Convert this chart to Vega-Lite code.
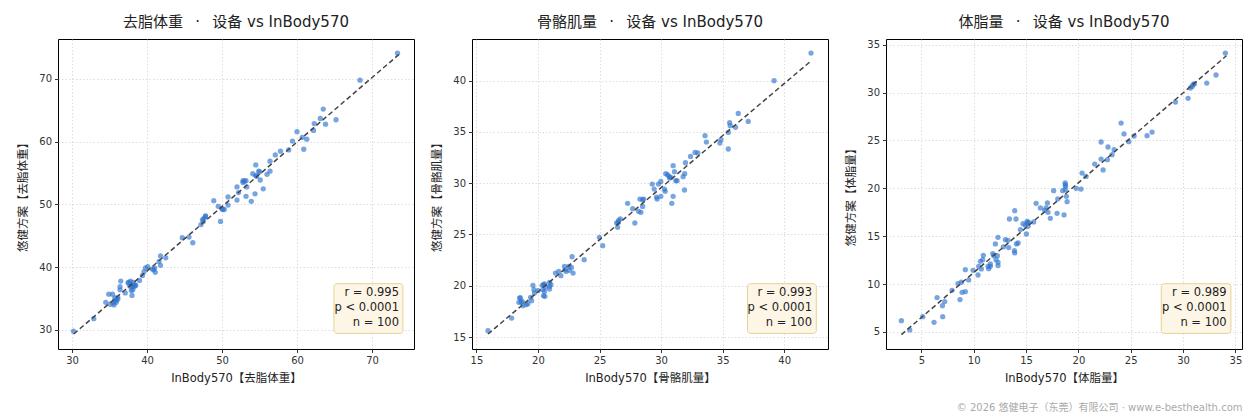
{
  "$schema": "https://vega.github.io/schema/vega-lite/v6.json",
  "background": "white",
  "padding": {"left": 17, "top": 14, "right": 5, "bottom": 5},
  "spacing": 58,
  "bounds": "flush",
  "title": {
    "text": "© 2026 悠健电子（东莞）有限公司 · www.e-besthealth.com",
    "orient": "bottom",
    "anchor": "end",
    "fontSize": 10,
    "fontWeight": "normal",
    "color": "#aaaaaa",
    "offset": 18
  },
  "config": {
    "font": "DejaVu Sans, Noto Sans CJK SC",
    "view": {"stroke": "#000000", "strokeWidth": 1},
    "title": {"fontSize": 15, "fontWeight": "normal", "color": "#222222", "offset": 9},
    "axis": {
      "domain": false,
      "tickColor": "#333333",
      "tickSize": 3.5,
      "labelFontSize": 10,
      "labelColor": "#333333",
      "labelPadding": 3,
      "titleFontSize": 11.5,
      "titleFontWeight": "normal",
      "titleColor": "#222222",
      "gridColor": "#d0d0d0",
      "gridDash": [1.5, 2],
      "gridWidth": 0.7
    },
    "axisY": {"titlePadding": 10},
    "axisX": {"titlePadding": 7}
  },
  "datasets": {
    "lbm": [
      {"x": 30.2, "y": 29.8}, {"x": 32.9, "y": 31.8}, {"x": 34.5, "y": 34.4}, {"x": 34.9, "y": 35.7},
      {"x": 35.4, "y": 35.7}, {"x": 35.1, "y": 34.1}, {"x": 35.5, "y": 34.3}, {"x": 35.7, "y": 34.6},
      {"x": 35.9, "y": 34.8}, {"x": 36.1, "y": 34.9}, {"x": 35.7, "y": 35.1}, {"x": 36.4, "y": 36.4},
      {"x": 36.4, "y": 36.9}, {"x": 36.5, "y": 37.8}, {"x": 37.1, "y": 35.9}, {"x": 37.5, "y": 37.5},
      {"x": 37.8, "y": 37.8}, {"x": 37.9, "y": 37.2}, {"x": 38.0, "y": 36.9}, {"x": 38.0, "y": 35.5},
      {"x": 38.1, "y": 36.4}, {"x": 38.2, "y": 37.1}, {"x": 38.4, "y": 37.2}, {"x": 38.5, "y": 37.1},
      {"x": 37.9, "y": 36.3}, {"x": 39.0, "y": 37.9}, {"x": 39.4, "y": 38.7}, {"x": 39.6, "y": 39.3},
      {"x": 39.8, "y": 39.9}, {"x": 40.1, "y": 40.1}, {"x": 40.7, "y": 39.7}, {"x": 40.9, "y": 39.6},
      {"x": 41.1, "y": 39.2}, {"x": 41.6, "y": 40.9}, {"x": 41.8, "y": 41.8}, {"x": 41.8, "y": 40.3},
      {"x": 42.5, "y": 41.5}, {"x": 44.7, "y": 44.7}, {"x": 45.6, "y": 44.8}, {"x": 46.1, "y": 43.9},
      {"x": 47.2, "y": 46.8}, {"x": 47.4, "y": 47.6}, {"x": 47.6, "y": 47.8}, {"x": 47.8, "y": 48.1},
      {"x": 48.9, "y": 50.6}, {"x": 49.5, "y": 49.7}, {"x": 49.8, "y": 47.3}, {"x": 50.1, "y": 49.2},
      {"x": 50.3, "y": 49.2}, {"x": 50.8, "y": 49.9}, {"x": 50.8, "y": 51.2}, {"x": 52.0, "y": 52.8},
      {"x": 52.0, "y": 50.7}, {"x": 52.2, "y": 51.9}, {"x": 52.8, "y": 53.8}, {"x": 53.0, "y": 53.7},
      {"x": 53.2, "y": 53.8}, {"x": 53.2, "y": 51.3}, {"x": 53.3, "y": 52.8}, {"x": 53.9, "y": 50.5},
      {"x": 54.1, "y": 54.9}, {"x": 54.4, "y": 51.7}, {"x": 54.5, "y": 56.3}, {"x": 54.6, "y": 54.5},
      {"x": 54.9, "y": 55.3}, {"x": 55.1, "y": 53.9}, {"x": 55.5, "y": 52.5}, {"x": 56.0, "y": 54.8},
      {"x": 56.4, "y": 55.3}, {"x": 56.4, "y": 56.9}, {"x": 57.1, "y": 57.9}, {"x": 57.8, "y": 58.5},
      {"x": 58.9, "y": 58.7}, {"x": 59.4, "y": 60.1}, {"x": 60.0, "y": 61.6}, {"x": 60.7, "y": 60.7},
      {"x": 60.9, "y": 58.8}, {"x": 61.3, "y": 60.4}, {"x": 62.2, "y": 61.8}, {"x": 62.3, "y": 62.9},
      {"x": 63.1, "y": 63.7}, {"x": 63.5, "y": 65.2}, {"x": 63.8, "y": 62.8}, {"x": 65.2, "y": 63.5},
      {"x": 68.4, "y": 69.8}, {"x": 73.4, "y": 74.1}, {"x": 35.9, "y": 34.4}, {"x": 37.5, "y": 37.6},
      {"x": 38.1, "y": 37.6}, {"x": 37.7, "y": 37.0}, {"x": 50.0, "y": 49.3}, {"x": 54.5, "y": 54.6},
      {"x": 52.8, "y": 53.5}, {"x": 47.8, "y": 48.2}, {"x": 47.5, "y": 47.3}, {"x": 35.6, "y": 34.0},
      {"x": 36.1, "y": 35.2}, {"x": 41.0, "y": 39.9}, {"x": 55.0, "y": 55.2}, {"x": 38.3, "y": 36.9}
    ],
    "lbm_line": [{"x": 30.23, "y": 29.36}, {"x": 73.56, "y": 73.87}],
    "smm": [
      {"x": 15.94, "y": 15.62}, {"x": 17.86, "y": 16.85}, {"x": 18.56, "y": 18.84}, {"x": 18.45, "y": 18.38},
      {"x": 18.64, "y": 18.38}, {"x": 18.78, "y": 18.06}, {"x": 19.05, "y": 18.15}, {"x": 19.18, "y": 18.25},
      {"x": 19.40, "y": 18.87}, {"x": 19.48, "y": 18.54}, {"x": 19.59, "y": 20.04}, {"x": 19.67, "y": 19.62},
      {"x": 19.72, "y": 19.29}, {"x": 20.35, "y": 20.04}, {"x": 20.45, "y": 20.10}, {"x": 20.53, "y": 20.17},
      {"x": 20.40, "y": 19.62}, {"x": 20.53, "y": 19.45}, {"x": 20.45, "y": 19.03}, {"x": 20.56, "y": 18.97},
      {"x": 20.61, "y": 19.88}, {"x": 20.94, "y": 20.33}, {"x": 20.94, "y": 19.94}, {"x": 20.94, "y": 19.68},
      {"x": 21.42, "y": 21.24}, {"x": 21.69, "y": 21.40}, {"x": 21.86, "y": 20.98}, {"x": 22.15, "y": 21.89},
      {"x": 22.29, "y": 21.40}, {"x": 22.50, "y": 21.89}, {"x": 22.56, "y": 21.50}, {"x": 22.72, "y": 21.79},
      {"x": 22.77, "y": 22.83}, {"x": 22.85, "y": 21.24}, {"x": 23.75, "y": 22.54}, {"x": 24.99, "y": 24.72},
      {"x": 25.26, "y": 23.91}, {"x": 26.39, "y": 26.12}, {"x": 26.47, "y": 25.70}, {"x": 26.55, "y": 26.38},
      {"x": 26.69, "y": 26.51}, {"x": 27.28, "y": 28.04}, {"x": 27.69, "y": 27.52}, {"x": 27.87, "y": 26.12},
      {"x": 28.17, "y": 27.26}, {"x": 28.28, "y": 28.46}, {"x": 28.36, "y": 27.16}, {"x": 28.50, "y": 27.74},
      {"x": 28.50, "y": 28.39}, {"x": 29.28, "y": 29.92}, {"x": 29.44, "y": 29.43}, {"x": 29.63, "y": 28.65},
      {"x": 29.68, "y": 28.46}, {"x": 29.79, "y": 29.92}, {"x": 29.98, "y": 30.18}, {"x": 29.98, "y": 28.72},
      {"x": 30.28, "y": 29.43}, {"x": 30.33, "y": 29.21}, {"x": 30.52, "y": 30.83}, {"x": 30.65, "y": 30.67},
      {"x": 30.79, "y": 30.57}, {"x": 30.87, "y": 28.04}, {"x": 30.98, "y": 31.71}, {"x": 30.98, "y": 28.72},
      {"x": 31.09, "y": 31.12}, {"x": 31.19, "y": 30.25}, {"x": 31.30, "y": 30.25}, {"x": 31.79, "y": 30.64},
      {"x": 31.92, "y": 30.93}, {"x": 31.98, "y": 32.00}, {"x": 31.90, "y": 29.34}, {"x": 32.39, "y": 32.62},
      {"x": 32.76, "y": 33.01}, {"x": 32.98, "y": 32.95}, {"x": 33.57, "y": 34.64}, {"x": 33.68, "y": 34.02},
      {"x": 34.78, "y": 33.92}, {"x": 34.86, "y": 34.25}, {"x": 35.46, "y": 34.96}, {"x": 35.46, "y": 33.34},
      {"x": 35.57, "y": 35.90}, {"x": 35.62, "y": 35.61}, {"x": 36.05, "y": 35.45}, {"x": 36.27, "y": 36.81},
      {"x": 37.08, "y": 36.03}, {"x": 39.18, "y": 40.00}, {"x": 42.18, "y": 42.70}, {"x": 18.51, "y": 18.80},
      {"x": 18.72, "y": 18.48}, {"x": 28.58, "y": 28.46}, {"x": 30.38, "y": 30.93}, {"x": 22.20, "y": 21.57},
      {"x": 21.05, "y": 20.10}, {"x": 26.52, "y": 26.18}, {"x": 20.00, "y": 19.52}, {"x": 30.70, "y": 30.50}
    ],
    "smm_line": [{"x": 15.94, "y": 15.29}, {"x": 42.2, "y": 41.95}],
    "bfm": [
      {"x": 3.09, "y": 6.18}, {"x": 3.89, "y": 5.21}, {"x": 5.13, "y": 6.60}, {"x": 6.21, "y": 6.01},
      {"x": 6.50, "y": 8.59}, {"x": 7.01, "y": 7.75}, {"x": 7.04, "y": 6.60}, {"x": 7.23, "y": 8.17},
      {"x": 7.93, "y": 9.35}, {"x": 8.50, "y": 10.05}, {"x": 8.69, "y": 8.38}, {"x": 8.82, "y": 10.19},
      {"x": 8.89, "y": 9.14}, {"x": 9.20, "y": 9.21}, {"x": 9.20, "y": 11.51}, {"x": 9.52, "y": 10.43},
      {"x": 9.94, "y": 11.44}, {"x": 10.41, "y": 10.95}, {"x": 10.48, "y": 11.86}, {"x": 10.64, "y": 12.38},
      {"x": 10.73, "y": 11.58}, {"x": 10.86, "y": 12.55}, {"x": 10.92, "y": 13.01}, {"x": 11.37, "y": 11.86},
      {"x": 11.43, "y": 11.61}, {"x": 11.59, "y": 12.10}, {"x": 11.82, "y": 13.18}, {"x": 11.91, "y": 12.97},
      {"x": 12.07, "y": 14.19}, {"x": 12.13, "y": 12.55}, {"x": 12.26, "y": 12.97}, {"x": 12.32, "y": 14.88},
      {"x": 12.32, "y": 12.27}, {"x": 12.32, "y": 11.93}, {"x": 12.83, "y": 13.88}, {"x": 13.03, "y": 14.64},
      {"x": 13.28, "y": 14.57}, {"x": 13.34, "y": 13.81}, {"x": 13.41, "y": 16.80}, {"x": 13.89, "y": 13.49},
      {"x": 13.92, "y": 13.25}, {"x": 13.92, "y": 17.67}, {"x": 14.04, "y": 16.80}, {"x": 14.08, "y": 14.19},
      {"x": 14.24, "y": 14.29}, {"x": 14.46, "y": 15.69}, {"x": 14.71, "y": 16.31}, {"x": 14.94, "y": 16.14},
      {"x": 15.03, "y": 15.23}, {"x": 15.10, "y": 16.56}, {"x": 15.19, "y": 16.03}, {"x": 15.25, "y": 16.45},
      {"x": 15.73, "y": 16.49}, {"x": 15.96, "y": 18.44}, {"x": 16.37, "y": 17.95}, {"x": 16.78, "y": 17.70},
      {"x": 16.91, "y": 17.95}, {"x": 17.04, "y": 18.47}, {"x": 17.10, "y": 17.50}, {"x": 17.32, "y": 16.87},
      {"x": 17.64, "y": 19.76}, {"x": 17.96, "y": 17.39}, {"x": 18.03, "y": 18.89}, {"x": 18.50, "y": 19.76},
      {"x": 18.63, "y": 17.22}, {"x": 18.73, "y": 20.56}, {"x": 18.76, "y": 20.21}, {"x": 18.76, "y": 19.86},
      {"x": 18.85, "y": 19.17}, {"x": 18.92, "y": 18.61}, {"x": 19.78, "y": 20.00}, {"x": 20.25, "y": 19.93},
      {"x": 20.35, "y": 21.60}, {"x": 20.73, "y": 21.25}, {"x": 21.56, "y": 22.54}, {"x": 22.17, "y": 24.84},
      {"x": 22.17, "y": 23.06}, {"x": 22.36, "y": 21.92}, {"x": 22.77, "y": 22.99}, {"x": 22.83, "y": 24.32},
      {"x": 23.22, "y": 23.52}, {"x": 23.41, "y": 24.04}, {"x": 24.08, "y": 26.82}, {"x": 24.36, "y": 25.68},
      {"x": 24.81, "y": 24.87}, {"x": 25.32, "y": 25.47}, {"x": 26.56, "y": 25.50}, {"x": 27.04, "y": 25.88},
      {"x": 29.27, "y": 29.02}, {"x": 30.48, "y": 29.40}, {"x": 30.70, "y": 30.48}, {"x": 30.86, "y": 30.65},
      {"x": 31.08, "y": 30.93}, {"x": 32.26, "y": 31.00}, {"x": 33.15, "y": 31.84}, {"x": 34.04, "y": 34.13},
      {"x": 11.59, "y": 11.86}, {"x": 15.13, "y": 16.38}, {"x": 18.76, "y": 20.38}, {"x": 30.96, "y": 30.83}
    ],
    "bfm_line": [{"x": 3.09, "y": 4.72}, {"x": 34.14, "y": 33.85}]
  },
  "hconcat": [
    {
      "title": "去脂体重 \u2002·\u2002 设备 vs InBody570",
      "width": 356,
      "height": 310,
      "layer": [
        {
          "data": {"name": "lbm"},
          "mark": {"type": "circle", "size": 28, "color": "#2f74d0", "opacity": 0.65},
          "encoding": {
            "x": {"field": "x", "type": "quantitative", "title": "InBody570【去脂体重】",
              "scale": {"domain": [28.13, 75.6], "nice": false, "zero": false},
              "axis": {"values": [30, 40, 50, 60, 70]}},
            "y": {"field": "y", "type": "quantitative", "title": "悠健方案【去脂体重】",
              "scale": {"domain": [26.97, 76.37], "nice": false, "zero": false},
              "axis": {"values": [30, 40, 50, 60, 70]}}
          }
        },
        {
          "data": {"name": "lbm_line"},
          "mark": {"type": "line", "color": "#444444", "strokeWidth": 1.5, "strokeDash": [5, 3]},
          "encoding": {"x": {"field": "x", "type": "quantitative"}, "y": {"field": "y", "type": "quantitative"}}
        },
        {
          "data": {"values": [{}]},
          "mark": {"type": "rect", "fill": "#fdf5e4", "fillOpacity": 0.92, "stroke": "#e6d292", "strokeWidth": 1, "cornerRadius": 3},
          "encoding": {"x": {"datum": 64.93}, "x2": {"datum": 74.13}, "y": {"datum": 37.38}, "y2": {"datum": 29.46}}
        },
        {
          "data": {"values": [{}]},
          "mark": {"type": "text", "text": "r = 0.995", "align": "right", "baseline": "middle", "fontSize": 11.5, "color": "#222222"},
          "encoding": {"x": {"datum": 73.6}, "y": {"datum": 35.9}}
        },
        {
          "data": {"values": [{}]},
          "mark": {"type": "text", "text": "p < 0.0001", "align": "right", "baseline": "middle", "fontSize": 11.5, "color": "#222222"},
          "encoding": {"x": {"datum": 73.6}, "y": {"datum": 33.5}}
        },
        {
          "data": {"values": [{}]},
          "mark": {"type": "text", "text": "n = 100", "align": "right", "baseline": "middle", "fontSize": 11.5, "color": "#222222"},
          "encoding": {"x": {"datum": 73.6}, "y": {"datum": 31.12}}
        }
      ]
    },
    {
      "title": "骨骼肌量 \u2002·\u2002 设备 vs InBody570",
      "width": 356,
      "height": 310,
      "layer": [
        {
          "data": {"name": "smm"},
          "mark": {"type": "circle", "size": 28, "color": "#2f74d0", "opacity": 0.65},
          "encoding": {
            "x": {"field": "x", "type": "quantitative", "title": "InBody570【骨骼肌量】",
              "scale": {"domain": [14.64, 43.56], "nice": false, "zero": false},
              "axis": {"values": [15, 20, 25, 30, 35, 40]}},
            "y": {"field": "y", "type": "quantitative", "title": "悠健方案【骨骼肌量】",
              "scale": {"domain": [13.83, 44.07], "nice": false, "zero": false},
              "axis": {"values": [15, 20, 25, 30, 35, 40]}}
          }
        },
        {
          "data": {"name": "smm_line"},
          "mark": {"type": "line", "color": "#444444", "strokeWidth": 1.5, "strokeDash": [5, 3]},
          "encoding": {"x": {"field": "x", "type": "quantitative"}, "y": {"field": "y", "type": "quantitative"}}
        },
        {
          "data": {"values": [{}]},
          "mark": {"type": "rect", "fill": "#fdf5e4", "fillOpacity": 0.92, "stroke": "#e6d292", "strokeWidth": 1, "cornerRadius": 3},
          "encoding": {"x": {"datum": 37.02}, "x2": {"datum": 42.61}, "y": {"datum": 20.2}, "y2": {"datum": 15.35}}
        },
        {
          "data": {"values": [{}]},
          "mark": {"type": "text", "text": "r = 0.993", "align": "right", "baseline": "middle", "fontSize": 11.5, "color": "#222222"},
          "encoding": {"x": {"datum": 42.26}, "y": {"datum": 19.29}}
        },
        {
          "data": {"values": [{}]},
          "mark": {"type": "text", "text": "p < 0.0001", "align": "right", "baseline": "middle", "fontSize": 11.5, "color": "#222222"},
          "encoding": {"x": {"datum": 42.26}, "y": {"datum": 17.83}}
        },
        {
          "data": {"values": [{}]},
          "mark": {"type": "text", "text": "n = 100", "align": "right", "baseline": "middle", "fontSize": 11.5, "color": "#222222"},
          "encoding": {"x": {"datum": 42.26}, "y": {"datum": 16.37}}
        }
      ]
    },
    {
      "title": "体脂量 \u2002·\u2002 设备 vs InBody570",
      "width": 356,
      "height": 310,
      "layer": [
        {
          "data": {"name": "bfm"},
          "mark": {"type": "circle", "size": 28, "color": "#2f74d0", "opacity": 0.65},
          "encoding": {
            "x": {"field": "x", "type": "quantitative", "title": "InBody570【体脂量】",
              "scale": {"domain": [1.62, 35.63], "nice": false, "zero": false},
              "axis": {"values": [5, 10, 15, 20, 25, 30, 35]}},
            "y": {"field": "y", "type": "quantitative", "title": "悠健方案【体脂量】",
              "scale": {"domain": [3.22, 35.6], "nice": false, "zero": false},
              "axis": {"values": [5, 10, 15, 20, 25, 30, 35]}}
          }
        },
        {
          "data": {"name": "bfm_line"},
          "mark": {"type": "line", "color": "#444444", "strokeWidth": 1.5, "strokeDash": [5, 3]},
          "encoding": {"x": {"field": "x", "type": "quantitative"}, "y": {"field": "y", "type": "quantitative"}}
        },
        {
          "data": {"values": [{}]},
          "mark": {"type": "rect", "fill": "#fdf5e4", "fillOpacity": 0.92, "stroke": "#e6d292", "strokeWidth": 1, "cornerRadius": 3},
          "encoding": {"x": {"datum": 27.92}, "x2": {"datum": 34.57}, "y": {"datum": 10.04}, "y2": {"datum": 4.85}}
        },
        {
          "data": {"values": [{}]},
          "mark": {"type": "text", "text": "r = 0.989", "align": "right", "baseline": "middle", "fontSize": 11.5, "color": "#222222"},
          "encoding": {"x": {"datum": 34.16}, "y": {"datum": 9.07}}
        },
        {
          "data": {"values": [{}]},
          "mark": {"type": "text", "text": "p < 0.0001", "align": "right", "baseline": "middle", "fontSize": 11.5, "color": "#222222"},
          "encoding": {"x": {"datum": 34.16}, "y": {"datum": 7.51}}
        },
        {
          "data": {"values": [{}]},
          "mark": {"type": "text", "text": "n = 100", "align": "right", "baseline": "middle", "fontSize": 11.5, "color": "#222222"},
          "encoding": {"x": {"datum": 34.16}, "y": {"datum": 5.94}}
        }
      ]
    }
  ]
}
